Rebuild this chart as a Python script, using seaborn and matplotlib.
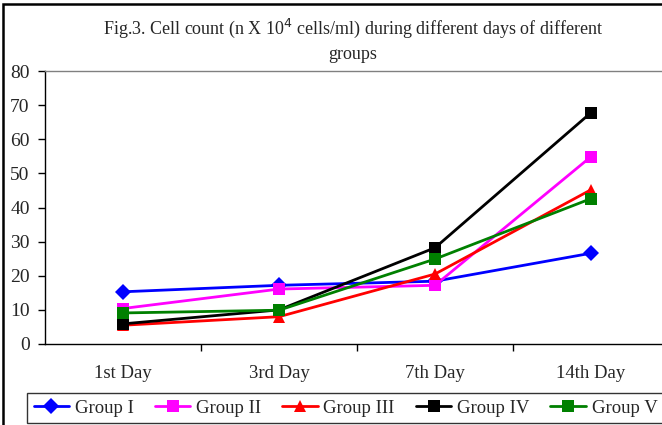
import pandas as pd
import seaborn as sns
import matplotlib.pyplot as plt
from matplotlib.patches import Rectangle

# Values
days = ['1st Day', '3rd Day', '7th Day', '14th Day']
group_1 = [15.3, 17.2, 18.4, 26.6]
group_2 = [10.4, 16.1, 17.2, 54.9]
group_3 = [5.5, 8.0, 20.5, 45.2]
group_4 = [5.9, 10.0, 28.2, 67.8]
group_5 = [9.1, 9.9, 24.9, 42.6]
groups = ['Group I', 'Group II', 'Group III', 'Group IV', 'Group V']

series = [group_1, group_2, group_3, group_4, group_5]
rows = []
for g, vals in zip(groups, series):
    for d, v in zip(days, vals):
        rows.append({'Day': d, 'Count': v, 'Group': g})
df = pd.DataFrame(rows)

sns.set_style('white')
plt.rcParams['font.family'] = ['Liberation Serif', 'DejaVu Serif']

colors = {'Group I': '#0000ff', 'Group II': '#ff00ff', 'Group III': '#ff0000',
          'Group IV': '#000000', 'Group V': '#008000'}
markers = {'Group I': 'D', 'Group II': 's', 'Group III': '^',
           'Group IV': 's', 'Group V': 's'}

fig = plt.figure(figsize=(6.62, 4.25), dpi=100)
ax = fig.add_axes([45 / 662, 81 / 425, 624 / 662, 273 / 425])

sns.lineplot(data=df, x='Day', y='Count', hue='Group', style='Group',
             palette=colors, markers=markers, dashes=False, markersize=8,
             markeredgewidth=0, linewidth=2, sort=False, ax=ax)

ax.set_xlim(-0.5, 3.5)
ax.set_ylim(0, 80)
ax.set_yticks(range(0, 81, 10))
ax.set_xticks(range(4))
ax.set_xticklabels(days)
ax.set_xticks([0.5, 1.5, 2.5], minor=True)
ax.tick_params(axis='x', which='major', length=0, pad=15, labelsize=13.5)
ax.tick_params(axis='x', which='minor', length=5, width=1, color='black', direction='out', bottom=True)
ax.tick_params(axis='y', length=5, width=1, color='black', direction='out', left=True,
               labelsize=14, pad=6)
ax.set_xlabel('')
ax.set_ylabel('')

for s in ['top', 'right']:
    ax.spines[s].set_color('#808080')
for s in ['left', 'bottom']:
    ax.spines[s].set_color('black')
for s in ax.spines.values():
    s.set_linewidth(1)

fig.text(353 / 662, 1 - 40 / 425, 'Fig.3. Cell count (n X 10$^4$ cells/ml) during different days of different\ngroups',
         ha='center', va='center', fontsize=13, linespacing=1.45)

handles, labels = ax.get_legend_handles_labels()
ax.legend(handles, labels, ncol=5, loc='upper left',
          bbox_to_anchor=(27 / 662, 1 - 393 / 425), bbox_transform=fig.transFigure,
          frameon=True, fancybox=False, edgecolor='black', fontsize=13.5,
          handlelength=1.9, handletextpad=0.3, columnspacing=1.12,
          borderpad=0.35, borderaxespad=0)
ax.get_legend().get_frame().set_linewidth(1)

fig.patches.append(Rectangle((3 / 662, -0.1), 1.2, 1 - 4 / 425 + 0.1, transform=fig.transFigure,
                             fill=False, edgecolor='black', linewidth=1.8))

fig.savefig('out.png', dpi=100)
